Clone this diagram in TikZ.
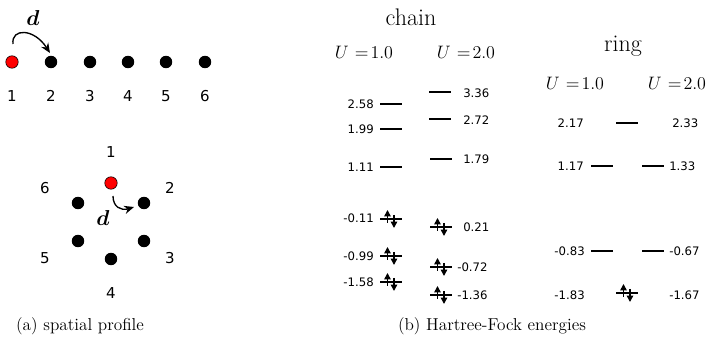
\documentclass[tikz,border=0pt]{standalone}
\usepackage{fontspec}
\usepackage{bm}
\newfontfamily\dejavu{DejaVu Sans}
\usetikzlibrary{arrows.meta}
\newcommand{\pairlevel}[2]{%
  \draw[lvl] (#1,#2) -- ++(22,0);
  \draw[spin] (#1+7.5,#2+4) -- (#1+7.5,#2-9);
  \draw[spin] (#1+14,#2-4) -- (#1+14,#2+9);}
\begin{document}
\begin{tikzpicture}[x=0.6667pt,y=-0.6667pt,
  dot/.style={circle,fill=black,inner sep=0pt,minimum size=8.3pt},
  reddot/.style={dot,fill=red,draw=black,line width=0.4pt},
  nlab/.style={font=\dejavu\fontsize{10}{12}\selectfont,inner sep=0pt},
  elab/.style={font=\dejavu\fontsize{7.8}{9}\selectfont,inner sep=0pt},
  lvl/.style={line width=1.3pt},
  spin/.style={line width=1pt,-{Triangle[length=4.2pt,width=4.2pt]}},
  hop/.style={line width=0.9pt,-{Stealth[length=6.5pt,width=5.5pt]}},
  ulab/.style={font=\fontsize{12.5}{14}\selectfont,inner sep=0pt},
  titletext/.style={font=\fontsize{16}{19}\selectfont,inner sep=0pt,anchor=base},
  captext/.style={font=\fontsize{11.5}{14}\selectfont,inner sep=0pt,anchor=base},
  dlab/.style={font=\fontsize{14.4}{16}\selectfont,inner sep=0pt}]
\path[use as bounding box] (0,0) rectangle (709,350);

% ---- chain spatial
\node[reddot] (c1) at (12,62) {};
\node[dot] (c2) at (51,62) {};
\node[dot] (c3) at (90,62) {};
\node[dot] (c4) at (128,62) {};
\node[dot] (c5) at (166,62) {};
\node[dot] (c6) at (205,62) {};
\foreach \i/\x in {1/12,2/51,3/90,4/128,5/166,6/205}
  \node[nlab] (cl\i) at (\x,96) {\i};
\coordinate (hs) at (13,44);
\coordinate (he) at (50,53);
\draw[hop] (hs) .. controls (11,28) and (34,28) .. (he);
\node[dlab] (cd) at (33,18) {$\bm{d}$};

% ---- ring spatial
\node[reddot] (r1) at (111,183) {};
\node[dot] (r2) at (144,203) {};
\node[dot] (r3) at (144,241) {};
\node[dot] (r4) at (111,259) {};
\node[dot] (r5) at (78,241) {};
\node[dot] (r6) at (78,203) {};
\node[nlab] (rl1) at (111,152) {1};
\node[nlab] (rl2) at (170,188) {2};
\node[nlab] (rl3) at (170,258) {3};
\node[nlab] (rl4) at (111,293) {4};
\node[nlab] (rl5) at (45,258) {5};
\node[nlab] (rl6) at (45,188) {6};
\coordinate (rhs) at (113,196);
\coordinate (rhe) at (134,207);
\draw[hop] (rhs) .. controls (113,207) and (121,211) .. (rhe);
\node[dlab] (rd) at (103,218) {$\bm{d}$};

% ---- titles
\node[titletext] (tchain) at (411,26) {chain};
\node[titletext] (tring) at (623,52) {ring};
\node[ulab] (u1c) at (364,52) {$U\mkern6mu{=}\mkern2mu1.0$};
\node[ulab] (u2c) at (466,52) {$U\mkern6mu{=}\mkern2mu2.0$};
\node[ulab] (u1r) at (575,83) {$U\mkern6mu{=}\mkern2mu1.0$};
\node[ulab] (u2r) at (677,83) {$U\mkern6mu{=}\mkern2mu2.0$};

% ---- chain U=1.0
\draw[lvl] (380,104) -- ++(22,0);
\draw[lvl] (380,129) -- ++(22,0);
\draw[lvl] (380,167) -- ++(22,0);
\pairlevel{380}{219}
\pairlevel{380}{256}
\pairlevel{380}{282}
\node[elab,anchor=east] at (374,104) {2.58};
\node[elab,anchor=east] at (374,129) {1.99};
\node[elab,anchor=east] at (374,167) {1.11};
\node[elab,anchor=east] at (374,218) {-0.11};
\node[elab,anchor=east] at (374,256) {-0.99};
\node[elab,anchor=east] at (374,282) {-1.58};

% ---- chain U=2.0
\draw[lvl] (429,92) -- ++(22,0);
\draw[lvl] (429,119) -- ++(22,0);
\draw[lvl] (430,159) -- ++(22,0);
\pairlevel{430}{227}
\pairlevel{430}{267}
\pairlevel{430}{295}
\node[elab,anchor=west] at (463,93) {3.36};
\node[elab,anchor=west] at (463,120) {2.72};
\node[elab,anchor=west] at (463,159) {1.79};
\node[elab,anchor=west] at (463,227) {0.21};
\node[elab,anchor=west] at (457,267) {-0.72};
\node[elab,anchor=west] at (457,295) {-1.36};

% ---- ring levels
\draw[lvl] (616,123) -- ++(22,0);
\draw[lvl] (591,166) -- ++(22,0);
\draw[lvl] (642,166) -- ++(22,0);
\draw[lvl] (591,251) -- ++(22,0);
\draw[lvl] (642,251) -- ++(22,0);
\pairlevel{616}{293}
\node[elab,anchor=east] at (584,123) {2.17};
\node[elab,anchor=west] at (672,123) {2.33};
\node[elab,anchor=east] at (584,166) {1.17};
\node[elab,anchor=west] at (669,166) {1.33};
\node[elab,anchor=east] at (585,251) {-0.83};
\node[elab,anchor=west] at (669,251) {-0.67};
\node[elab,anchor=east] at (585,295) {-1.83};
\node[elab,anchor=west] at (669,295) {-1.67};

% ---- captions
\node[captext] (capa) at (80,331) {(a) spatial profile};
\node[captext] (capb) at (492,331) {(b) Hartree-Fock energies};
\end{tikzpicture}
\end{document}
